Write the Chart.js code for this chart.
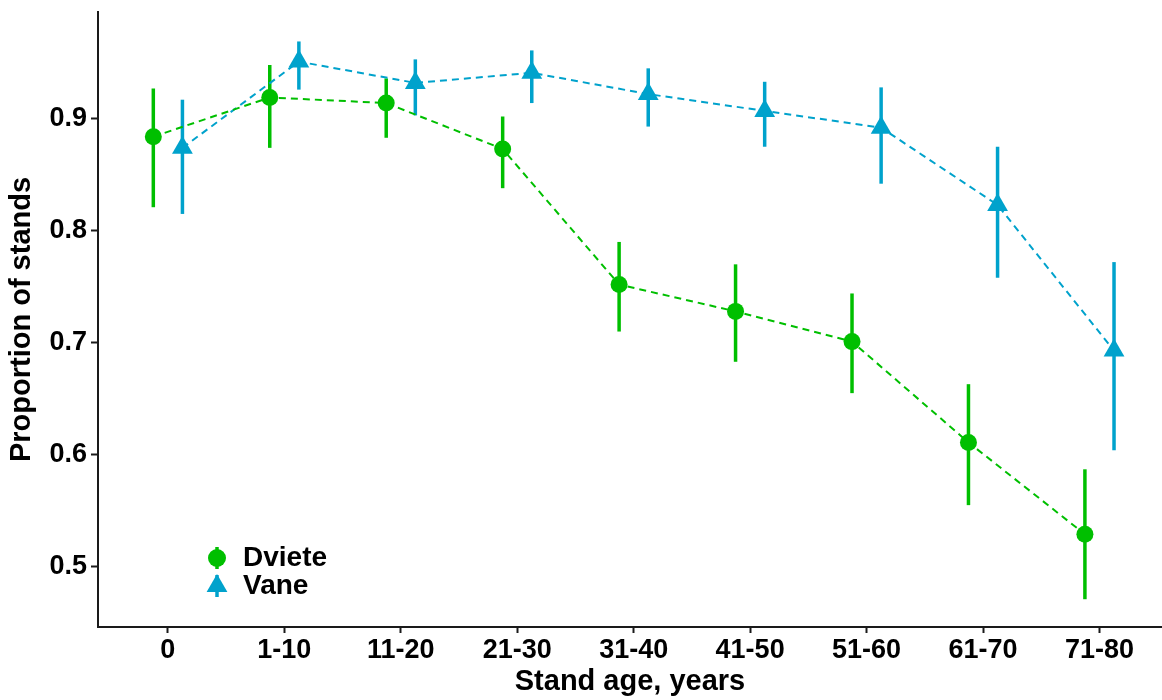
<!DOCTYPE html>
<html>
<head>
<meta charset="utf-8">
<script src="https://cdn.jsdelivr.net/npm/chart.js@4.4.1/dist/chart.umd.min.js"></script>
<style>
  html, body { margin: 0; padding: 0; background: #ffffff; }
  #wrap { width: 1162px; height: 700px; }
</style>
</head>
<body>
<div id="wrap"><canvas id="chart" width="1162" height="700"></canvas></div>
<script>
// Stand age classes
const categories = ['0', '1-10', '11-20', '21-30', '31-40', '41-50', '51-60', '61-70', '71-80'];

// Dviete: estimate with lower / upper interval bounds
const dvieteValues = [0.884, 0.919, 0.914, 0.873, 0.752, 0.728, 0.701, 0.611, 0.529];
const dvieteLower  = [0.821, 0.874, 0.883, 0.838, 0.710, 0.683, 0.655, 0.555, 0.471];
const dvieteUpper  = [0.927, 0.948, 0.936, 0.902, 0.790, 0.770, 0.744, 0.663, 0.587];

// Vane: estimate with lower / upper interval bounds
const vaneValues = [0.874, 0.951, 0.932, 0.941, 0.922, 0.907, 0.892, 0.823, 0.693];
const vaneLower  = [0.815, 0.926, 0.903, 0.914, 0.893, 0.875, 0.842, 0.758, 0.604];
const vaneUpper  = [0.917, 0.969, 0.953, 0.961, 0.945, 0.933, 0.928, 0.875, 0.772];

// Y axis tick values
const yTicks = [0.5, 0.6, 0.7, 0.8, 0.9];

const seriesNames = ['Dviete', 'Vane'];

const FONT = '"Liberation Sans", Arial, Helvetica, sans-serif';
const GREEN = '#00BF00';
const BLUE = '#00A2CC';
const AXIS = '#1a1a1a';
const DODGE = 0.125;

const series = [
  { name: seriesNames[0], values: dvieteValues, lower: dvieteLower, upper: dvieteUpper, color: GREEN, shape: 'circle', shift: -DODGE },
  { name: seriesNames[1], values: vaneValues, lower: vaneLower, upper: vaneUpper, color: BLUE, shape: 'triangle', shift: DODGE }
];

// Vertical interval bars, drawn through the chart's own scales
const intervalBars = {
  id: 'intervalBars',
  beforeDatasetsDraw(chart) {
    const { ctx, scales: { x, y }, chartArea } = chart;
    ctx.save();
    ctx.beginPath();
    ctx.rect(chartArea.left, chartArea.top, chartArea.right - chartArea.left, chartArea.bottom - chartArea.top);
    ctx.clip();
    ctx.lineCap = 'butt';
    ctx.lineWidth = 3.5;
    series.forEach(s => {
      ctx.strokeStyle = s.color;
      s.values.forEach((_, i) => {
        const px = x.getPixelForValue(i + s.shift);
        ctx.beginPath();
        ctx.moveTo(px, y.getPixelForValue(s.lower[i]));
        ctx.lineTo(px, y.getPixelForValue(s.upper[i]));
        ctx.stroke();
      });
    });
    ctx.restore();
  }
};

// Legend keys (point with interval bar) placed in the lower left of the plot
const insetLegend = {
  id: 'insetLegend',
  afterDraw(chart) {
    const { ctx, chartArea } = chart;
    const kx = chartArea.left + 119;
    const tx = chartArea.left + 145;
    const rows = [chartArea.bottom - 69, chartArea.bottom - 41];
    ctx.save();
    series.forEach((s, k) => {
      const cy = rows[k];
      ctx.strokeStyle = s.color;
      ctx.fillStyle = s.color;
      ctx.lineWidth = 3.5;
      ctx.beginPath();
      ctx.moveTo(kx, cy - 11);
      ctx.lineTo(kx, cy + 11);
      ctx.stroke();
      ctx.beginPath();
      if (s.shape === 'circle') {
        ctx.arc(kx, cy, 9, 0, Math.PI * 2);
      } else {
        const r = 12;
        ctx.moveTo(kx, cy - r);
        ctx.lineTo(kx + r * Math.sin(2 * Math.PI / 3), cy + r / 2);
        ctx.lineTo(kx - r * Math.sin(2 * Math.PI / 3), cy + r / 2);
        ctx.closePath();
      }
      ctx.fill();
      ctx.fillStyle = '#000';
      ctx.font = 'bold 28px ' + FONT;
      ctx.textAlign = 'left';
      ctx.textBaseline = 'middle';
      ctx.fillText(s.name, tx, cy);
    });
    ctx.restore();
  }
};

const datasets = series.map(s => ({
  label: s.name,
  data: s.values.map((v, i) => ({ x: i + s.shift, y: v })),
  showLine: true,
  borderColor: s.color,
  borderWidth: 2,
  borderDash: [7, 5],
  backgroundColor: s.color,
  pointStyle: s.shape,
  pointRadius: s.shape === 'circle' ? 8.5 : 12,
  pointBorderWidth: 0,
  pointBackgroundColor: s.color,
  pointHoverRadius: s.shape === 'circle' ? 8.5 : 12,
  tension: 0
}));

const tickFont = { family: FONT, size: 27, weight: 'bold' };
const titleFont = { family: FONT, size: 29, weight: 'bold' };

new Chart(document.getElementById('chart'), {
  type: 'scatter',
  data: { datasets },
  plugins: [intervalBars, insetLegend],
  options: {
    responsive: false,
    animation: false,
    devicePixelRatio: 1,
    layout: { autoPadding: false, padding: { top: 12, left: 0, right: 0, bottom: 0 } },
    plugins: {
      legend: { display: false },
      tooltip: { enabled: false }
    },
    scales: {
      x: {
        type: 'linear',
        min: -0.6,
        max: 8.537,
        afterBuildTicks: s => { s.ticks = categories.map((_, i) => ({ value: i })); },
        afterFit: s => { s.height = 73; s.paddingLeft = 0; s.paddingRight = 0; },
        ticks: {
          callback: v => categories[v],
          font: tickFont,
          color: '#000',
          padding: 1,
          maxRotation: 0,
          autoSkip: false
        },
        grid: { display: true, drawOnChartArea: false, drawTicks: true, tickLength: 6, tickWidth: 2, tickColor: AXIS },
        border: { display: true, color: AXIS, width: 2 },
        title: { display: true, text: 'Stand age, years', font: titleFont, color: '#000', padding: { top: 0, bottom: 1 } }
      },
      y: {
        type: 'linear',
        min: 0.4462,
        max: 0.9953,
        afterBuildTicks: s => { s.ticks = yTicks.map(v => ({ value: v })); },
        afterFit: s => { s.width = 98; s.paddingTop = 0; s.paddingBottom = 0; },
        ticks: {
          callback: v => v.toFixed(1),
          font: tickFont,
          color: '#000',
          padding: 4
        },
        grid: { display: true, drawOnChartArea: false, drawTicks: true, tickLength: 7, tickWidth: 2, tickColor: AXIS },
        border: { display: true, color: AXIS, width: 2 },
        title: { display: true, text: 'Proportion of stands', font: titleFont, color: '#000', padding: { top: 5, bottom: 0 } }
      }
    }
  }
});
</script>
</body>
</html>
